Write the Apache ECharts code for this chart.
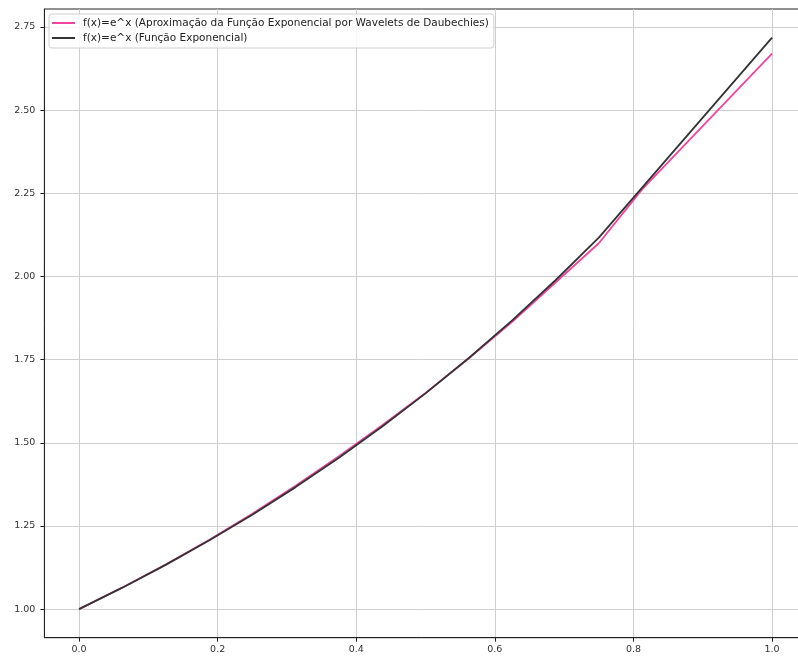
<!DOCTYPE html>
<html>
<head>
<meta charset="utf-8">
<script src="https://cdn.jsdelivr.net/npm/echarts@6/dist/echarts.min.js"></script>
<style>
html,body{margin:0;padding:0;background:#fff;overflow:hidden;}
#chart{width:798px;height:657px;}
</style>
</head>
<body>
<div id="chart"></div>
<script>
// x sample points and values
const xExact = [0, 0.0625, 0.125, 0.1875, 0.25, 0.3125, 0.375, 0.4375, 0.5,
                0.5625, 0.625, 0.6875, 0.75, 1.0];
const yExact = [1.0000, 1.0645, 1.1331, 1.2062, 1.2840, 1.3668, 1.4550, 1.5488, 1.6487,
                1.7551, 1.8682, 1.9887, 2.1170, 2.7183];

const xApprox = [0, 0.0625, 0.125, 0.1875, 0.25, 0.3125, 0.375, 0.4375, 0.5,
                 0.5625, 0.625, 0.6875, 0.75, 0.8125, 0.875, 0.9375, 1.0];
const yApprox = [1.000, 1.065, 1.134, 1.208, 1.287, 1.371, 1.460, 1.553, 1.650,
                 1.754, 1.864, 1.982, 2.100, 2.262, 2.398, 2.534, 2.670];

const xTicks = [0, 0.2, 0.4, 0.6, 0.8, 1.0];
const yTicks = [1.00, 1.25, 1.50, 1.75, 2.00, 2.25, 2.50, 2.75];

const nameApprox = 'f(x)=e^x (Aproximação da Função Exponencial por Wavelets de Daubechies)';
const nameExact = 'f(x)=e^x (Função Exponencial)';

const chart = echarts.init(document.getElementById('chart'));
const font = 'DejaVu Sans';
chart.setOption({
  animation: false,
  backgroundColor: '#ffffff',
  grid: {
    left: 44.4, top: 9, width: 762.3, bottom: 19.3,
    outerBoundsMode: 'none', containLabel: false,
    show: true, borderColor: '#222', borderWidth: 1, backgroundColor: 'transparent'
  },
  legend: {
    orient: 'vertical',
    left: 49, top: 14,
    padding: [3, 5, 4, 3],
    itemWidth: 23, itemHeight: 2, itemGap: 3,
    icon: 'rect',
    borderColor: '#d0d0d0', borderWidth: 1, borderRadius: 3,
    backgroundColor: 'rgba(255,255,255,0.85)',
    textStyle: { fontFamily: font, fontSize: 10.5, color: '#222', lineHeight: 12, padding: [0, 0, 0, 3] },
    data: [nameApprox, nameExact]
  },
  xAxis: {
    type: 'value', min: -0.05, max: 1.05,
    axisLine: { show: true, onZero: false, lineStyle: { color: '#222', width: 1 } },
    axisTick: { show: true, length: 4, lineStyle: { color: '#222' }, customValues: xTicks },
    axisLabel: { customValues: xTicks, margin: 7, fontFamily: font, fontSize: 9.5, color: '#333',
      formatter: v => v.toFixed(1) },
    splitLine: { show: true, lineStyle: { color: '#cfcfcf', width: 1 } }
  },
  yAxis: {
    type: 'value', min: 0.9141, max: 2.8042,
    axisLine: { show: true, onZero: false, lineStyle: { color: '#222', width: 1 } },
    axisTick: { show: true, length: 4, lineStyle: { color: '#222' }, customValues: yTicks },
    axisLabel: { customValues: yTicks, margin: 9, fontFamily: font, fontSize: 9.5, color: '#333',
      formatter: v => v.toFixed(2) },
    splitLine: { show: true, lineStyle: { color: '#cfcfcf', width: 1 } }
  },
  series: [
    {
      name: nameApprox, type: 'line', symbol: 'none',
      itemStyle: { color: '#f0449e' },
      lineStyle: { color: '#f0449e', width: 1.8 },
      data: xApprox.map((x, i) => [x, yApprox[i]])
    },
    {
      name: nameExact, type: 'line', symbol: 'none',
      itemStyle: { color: '#333333' },
      lineStyle: { color: '#333333', width: 1.8 },
      data: xExact.map((x, i) => [x, yExact[i]])
    }
  ]
});
</script>
</body>
</html>
